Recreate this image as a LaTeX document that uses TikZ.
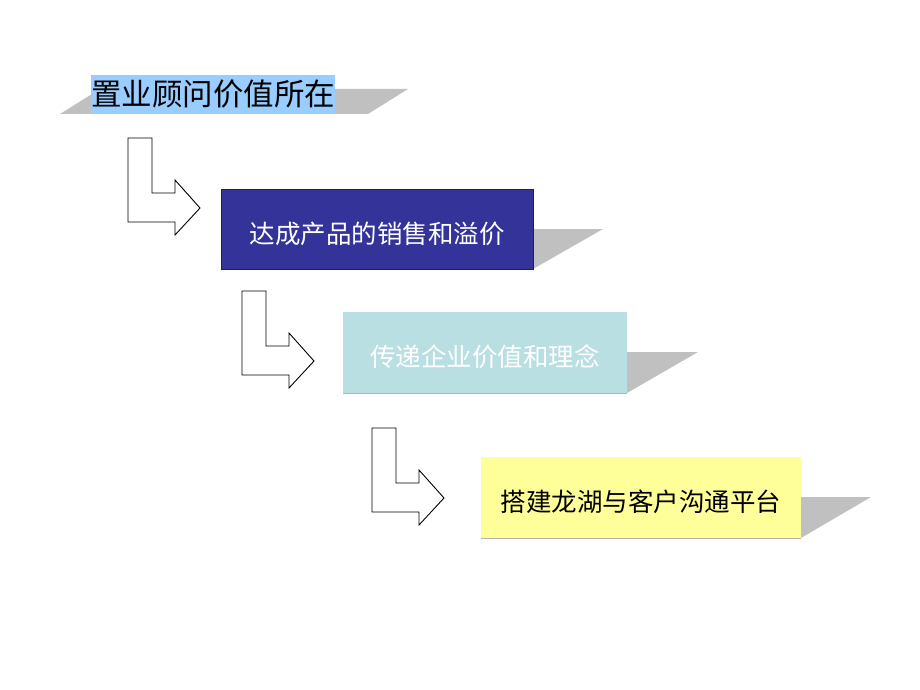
\documentclass[tikz,border=0pt]{standalone}
\usepackage{fontspec}
\newfontfamily\cjk{Noto Sans CJK SC}
\definecolor{shadowgray}{HTML}{C0C0C0}
\definecolor{titleblue}{HTML}{99CCFF}
\definecolor{deepblue}{HTML}{333399}
\definecolor{paleteal}{HTML}{B9DFE2}
\definecolor{paleyellow}{HTML}{FFFF99}
\tikzset{
  shadowshape/.style={fill=shadowgray, draw=none},
  stagebox/.style={minimum width=#1, minimum height=80pt, inner sep=0pt},
  stagetext/.style={inner sep=0pt, font=\cjk\fontsize{25.5}{28}\selectfont},
  bentarrowline/.style={draw=black, fill=white, line width=0.9pt, line join=miter},
  pics/bentarrow/.style={code={
    \draw[bentarrowline] (0,0) -- (24,0) -- (24,55) -- (47,55) -- (47,42) -- (72,70) -- (47,97) -- (47,84) -- (0,84) -- cycle;
  }}
}
\begin{document}
\begin{tikzpicture}[x=1pt,y=-1pt]
\useasboundingbox (0,0) rectangle (920,690);
% shadows
\fill[shadowshape] (60,114) -- (368,114) -- (408,89) -- (100,89) -- cycle;
\fill[shadowshape] (260,269) -- (533,269) -- (603,229) -- (300,229) -- cycle;
\fill[shadowshape] (380,393) -- (627,393) -- (698,352) -- (420,352) -- cycle;
\fill[shadowshape] (520,538) -- (801,538) -- (871,497) -- (560,497) -- cycle;
% title
\node[fill=titleblue, minimum width=244pt, minimum height=39pt, inner sep=0pt,
      font=\cjk\fontsize{30.5}{33}\selectfont, text=black] (title) at (213,94.5) {置业顾问价值所在};
% stage boxes
\node[stagebox=312pt, fill=deepblue, draw=black!85, line width=0.9pt] (sales) at (377,229) {};
\node[stagetext, text=white] (salestext) at ([yshift=-4.5pt]sales.center) {达成产品的销售和溢价};
\node[stagebox=284pt, minimum height=81pt, fill=paleteal] (values) at (485,352.5) {};
\node[stagetext, text=white] (valuestext) at ([yshift=-4pt]values.center) {传递企业价值和理念};
\draw[black!30, line width=0.8pt] (values.south west) -- (values.south east);
\node[stagebox=320pt, minimum height=81pt, fill=paleyellow] (platform) at (641,497.5) {};
\node[stagetext, text=black] (platformtext) at ([yshift=-4pt]platform.center) {搭建龙湖与客户沟通平台};
\draw[black!30, line width=0.8pt] (platform.south west) -- (platform.south east);
% bent arrows
\pic at (128,138) {bentarrow};
\pic at (242,291) {bentarrow};
\pic at (372,428) {bentarrow};
\end{tikzpicture}
\end{document}
